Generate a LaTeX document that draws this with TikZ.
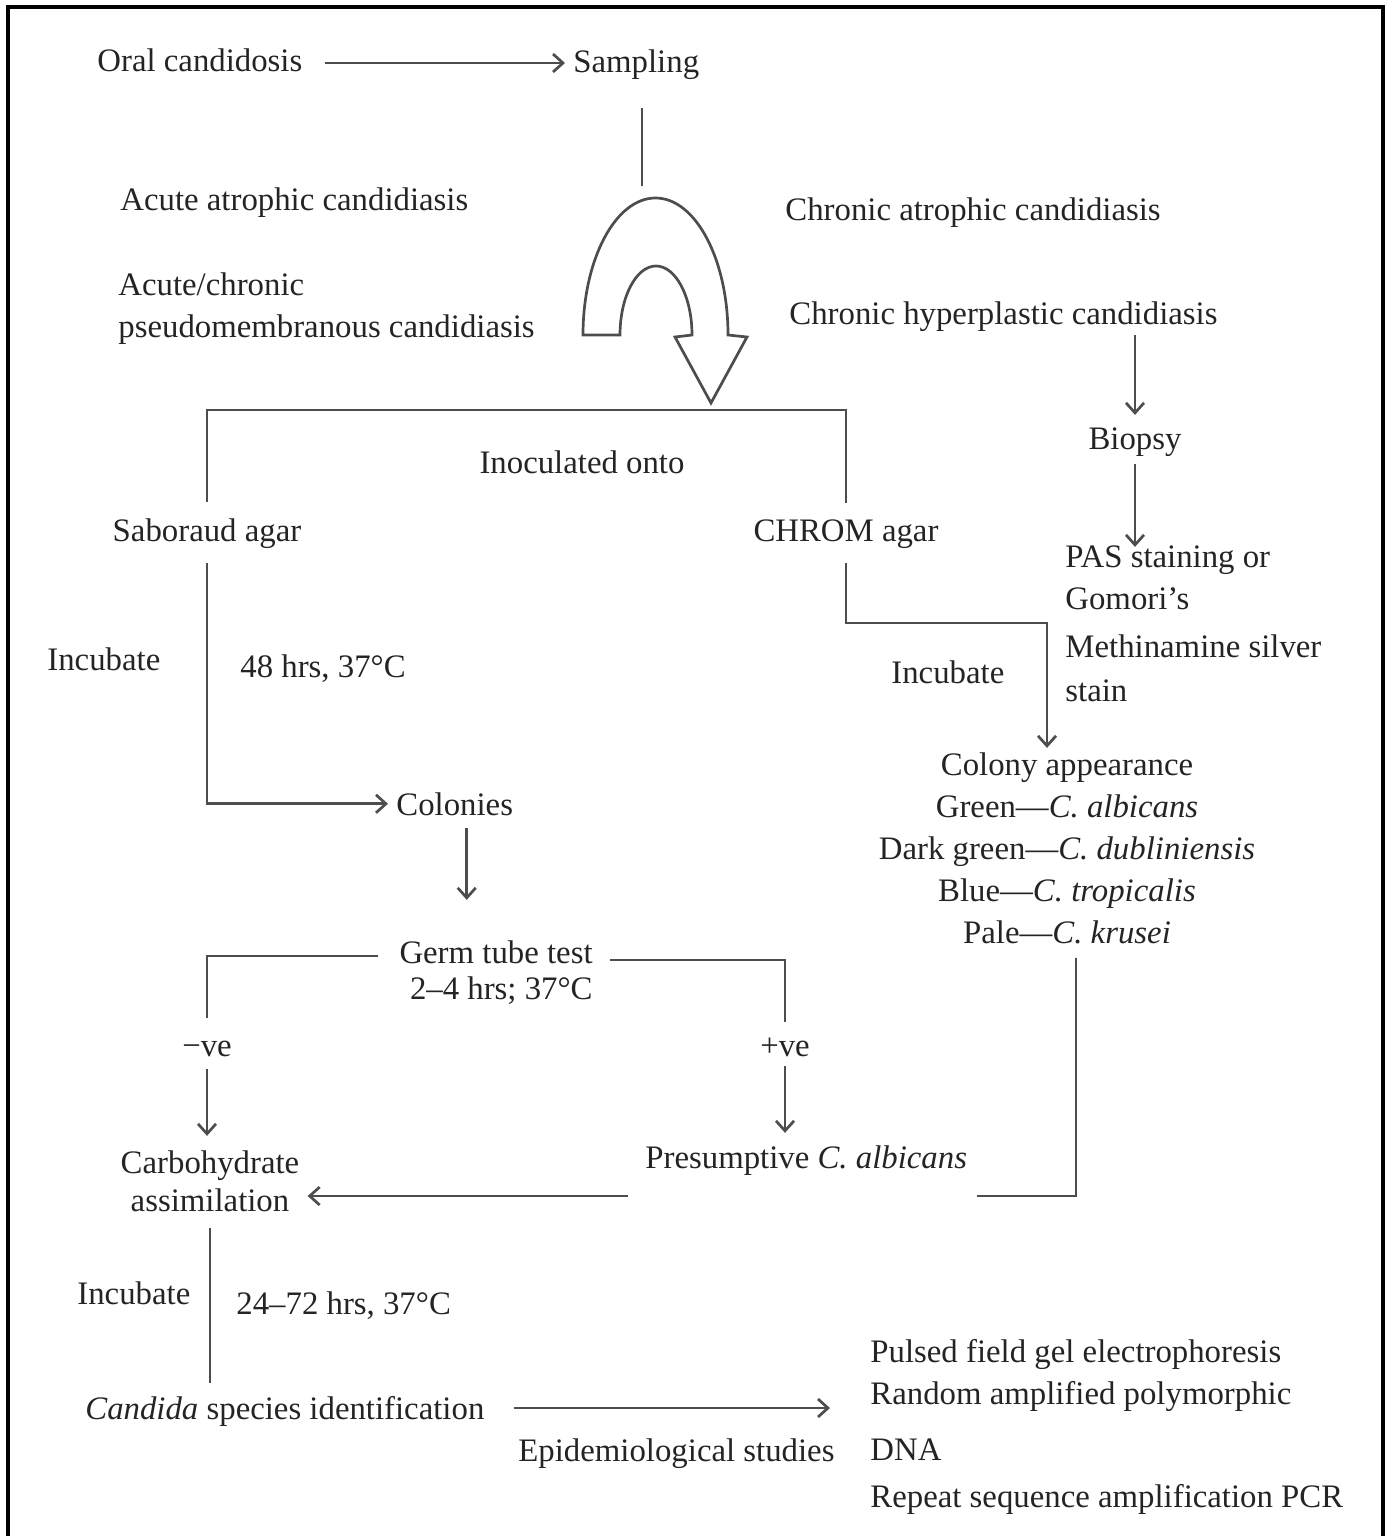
\documentclass[tikz,border=0pt]{standalone}
\usepackage{fontspec}
\setmainfont{Liberation Serif}
\usepackage{tikz}
\usetikzlibrary{arrows.meta}
\definecolor{ink}{HTML}{242424}
\definecolor{wiregray}{HTML}{4d4d4d}

\begin{document}
\begin{tikzpicture}[x=0.5pt, y=-0.5pt,
  txt/.style={inner sep=0pt, yshift=-2pt, text=ink, font=\fontsize{16.4}{21}\selectfont},
  link/.style={draw=wiregray, line width=1.35pt},
  arr/.style={link, -{Straight Barb[length=5pt,width=9pt]}}]
\useasboundingbox (0,0) rectangle (1389,1536);
\draw[line width=2pt] (8,1536) -- (8,7) -- (1383,7) -- (1383,1536);

\node[txt, anchor=base west] (oral) at (97,68) {Oral candidosis};
\node[txt, anchor=base west] (samp) at (573,69) {Sampling};
\draw[arr] ([shift={(22,-9)}]oral.base east) coordinate (oa) -- ([xshift=-4pt]oa -| samp.west);

\node[txt, anchor=base west] (acuteatr) at (120,206) {Acute atrophic candidiasis};
\node[txt, anchor=base west, align=left] (pseudo) at (118,333) {Acute/chronic\\pseudomembranous candidiasis};
\node[txt, anchor=base west] (chronatr) at (785,216) {Chronic atrophic candidiasis};
\node[txt, anchor=base west] (chronhyp) at (789,320) {Chronic hyperplastic candidiasis};

% sampling drop and u-turn arrow
\coordinate (utop) at (642,186);
\draw[link] (utop |- samp.south) ++(0,28) -- (utop);
\draw[link, fill=white] (583,335) arc[start angle=180, end angle=360, x radius=72.5, y radius=137]
  -- (747,337) -- (711,403) -- (675,337) -- (692,335)
  arc[start angle=0, end angle=-180, x radius=36, y radius=69] -- cycle;

\node[txt, anchor=base] (inoc) at (582,469) {Inoculated onto};
\node[txt, anchor=base] (sabo) at (207,537) {Saboraud agar};
\node[txt, anchor=base] (chrom) at (846,537) {CHROM agar};
\coordinate (bar) at (711,410);
\draw[link] ([yshift=8pt]sabo.north) |- (bar) -| ([yshift=8pt]chrom.north);

\node[txt, anchor=base] (biopsy) at (1135,445) {Biopsy};
\node[txt, anchor=base west, align=left] (pas) at (1065,697) {PAS staining or\\Gomori’s\\[3pt]Methinamine silver\\[1pt]stain};
\draw[arr] ([yshift=-2pt]chronhyp.south -| biopsy.north) -- ([yshift=6pt]biopsy.north);
\draw[arr] ([yshift=-4pt]biopsy.south) -- ([yshift=-1pt]biopsy.south |- pas.north);

\node[txt, anchor=base west] (incA) at (47,666) {Incubate};
\node[txt, anchor=base west] (hrsA) at (240,673) {48 hrs, 37°C};
\node[txt, anchor=base west] (colonies) at (396,811) {Colonies};
\draw[arr] ([yshift=-7.5pt]sabo.south) |- ([xshift=-4pt]colonies.west);

\node[txt, anchor=base west] (incB) at (891,679) {Incubate};
\node[txt, anchor=base, align=center] (colony) at (1067,939) {Colony appearance\\Green—\textit{C. albicans}\\Dark green—\textit{C. dubliniensis}\\Blue—\textit{C. tropicalis}\\Pale—\textit{C. krusei}};
\coordinate (chromturn) at (1047,623);
\draw[arr] ([yshift=-7.5pt]chrom.south) |- (chromturn) -- ([yshift=2pt]chromturn |- colony.north);

\node[txt, anchor=base east, align=right, font=\fontsize{16.4}{18}\selectfont] (germ) at (593,995) {Germ tube test\\2–4 hrs; 37°C};
\draw[arr] ([shift={(12,13)}]colonies.base) -- ([shift={(12,-40)}]colonies.base |- germ.north);

\node[txt, anchor=base] (neg) at (207,1052) {−ve};
\node[txt, anchor=base] (pos) at (785,1052) {+ve};
\draw[link] ([shift={(-21,-43)}]germ.base west) -| ([yshift=11pt]neg.north);
\draw[link] ([shift={(17,-39)}]germ.base east) -| ([yshift=7.5pt]pos.north);

\node[txt, anchor=base, align=center, font=\fontsize{16.4}{19}\selectfont] (carb) at (210,1207) {Carbohydrate\\assimilation};
\node[txt, anchor=base west] (presum) at (645,1164) {Presumptive \textit{C. albicans}};
\draw[arr] ([yshift=-6pt]neg.south) -- ([yshift=7pt]neg.south |- carb.north);
\draw[arr] ([yshift=-4.5pt]pos.south) -- ([yshift=6pt]pos.south |- presum.north);
\draw[arr] ([shift={(-17,28)}]presum.base west) coordinate (pa) -- ([xshift=4pt]pa -| carb.east);
\draw[link] ([shift={(9,14)}]colony.south) |- ([shift={(10,28)}]presum.base east);

\node[txt, anchor=base west] (incC) at (77,1300) {Incubate};
\node[txt, anchor=base west] (hrsB) at (236,1310) {24–72 hrs, 37°C};
\node[txt, anchor=base west] (candida) at (85,1415) {\textit{Candida} species identification};
\draw[link] ([yshift=-8pt]carb.south) -- ([yshift=6.5pt]carb.south |- candida.north);

\node[txt, anchor=base west] (epid) at (518,1457) {Epidemiological studies};
\node[txt, anchor=base west, align=left] (methods) at (870,1503) {Pulsed field gel electrophoresis\\Random amplified polymorphic\\[7pt]DNA\\[2.5pt]Repeat sequence amplification PCR};
\draw[arr] ([shift={(29,-11)}]candida.base east) coordinate (ca) -- ([xshift=-20pt]ca -| methods.west);
\end{tikzpicture}
\end{document}
